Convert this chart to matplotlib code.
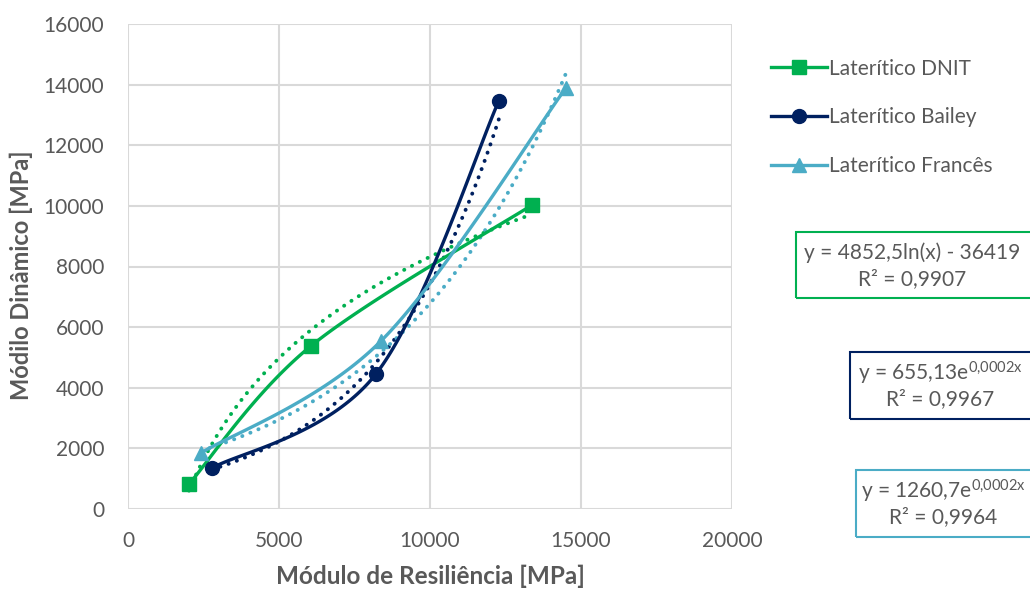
import numpy as np
import matplotlib
matplotlib.use("Agg")
import matplotlib.pyplot as plt
from matplotlib.lines import Line2D
from matplotlib.patches import Rectangle

plt.rcParams['font.family'] = ['Lato', 'DejaVu Sans']

# ---- data ----
dnit_x = [2020, 6060, 13380]
dnit_y = [825, 5380, 10030]
bailey_x = [2780, 8210, 12280]
bailey_y = [1350, 4455, 13465]
frances_x = [2420, 8380, 14500]
frances_y = [1850, 5545, 13890]
series_names = ["Laterítico DNIT", "Laterítico Bailey", "Laterítico Francês"]
colors = ["#00B050", "#002060", "#4BACC6"]
markers = ["s", "o", "^"]
eq_texts = [
    ("y = 4852,5ln(x) - 36419", "R² = 0,9907"),
    ("y = 655,13e$\\mathregular{^{0{,}0002x}}$", "R² = 0,9967"),
    ("y = 1260,7e$\\mathregular{^{0{,}0002x}}$", "R² = 0,9964"),
]
x_ticks = [0, 5000, 10000, 15000, 20000]
y_ticks = [0, 2000, 4000, 6000, 8000, 10000, 12000, 14000, 16000]
gray = "#595959"


def smooth(xs, ys, n=60):
    P = np.column_stack([xs, ys]).astype(float)
    pts = []
    for i in range(len(P) - 1):
        p0 = P[i - 1] if i > 0 else P[i]
        p1, p2 = P[i], P[i + 1]
        p3 = P[i + 2] if i + 2 < len(P) else P[i + 1]
        c1 = p1 + (p2 - p0) / 6.0
        c2 = p2 - (p3 - p1) / 6.0
        t = np.linspace(0, 1, n)[:, None]
        b = ((1 - t) ** 3) * p1 + 3 * ((1 - t) ** 2) * t * c1 + 3 * (1 - t) * t ** 2 * c2 + t ** 3 * p2
        pts.append(b if i == 0 else b[1:])
    pts = np.vstack(pts)
    return pts[:, 0], pts[:, 1]


fig = plt.figure(figsize=(10.3, 5.9), dpi=100)
ax = fig.add_axes([128 / 1030, 1 - 509 / 590, 604 / 1030, 485 / 590])
ax.set_xlim(0, 20000)
ax.set_ylim(0, 16000)
ax.set_xticks(x_ticks)
ax.set_yticks(y_ticks)
ax.grid(True, color="#d9d9d9", linewidth=1.5)
ax.set_axisbelow(True)
for s in ax.spines.values():
    s.set_visible(False)
ax.tick_params(length=0, labelsize=15, colors=gray)
ax.tick_params(axis="x", pad=16)
ax.tick_params(axis="y", pad=17)
ax.set_xlabel("Módulo de Resiliência [MPa]", fontsize=17.5, fontweight="bold", color=gray, labelpad=10)
fig.text(21 / 1030, 1 - 275 / 590, "Módilo Dinâmico [MPa]", rotation=90, ha="center", va="center",
         fontsize=17, fontweight="bold", color=gray)

data = [(dnit_x, dnit_y), (bailey_x, bailey_y), (frances_x, frances_y)]
for k, (xs, ys) in enumerate(data):
    xs_a = np.array(xs, float)
    ys_a = np.array(ys, float)
    # trendlines
    xt = np.linspace(xs_a.min(), xs_a.max(), 200)
    if k == 0:
        a, b = np.polyfit(np.log(xs_a), ys_a, 1)
        yt = a * np.log(xt) + b
    else:
        a, b = np.polyfit(xs_a, np.log(ys_a), 1)
        yt = np.exp(b) * np.exp(a * xt)
    ax.plot(xt, yt, color=colors[k], linestyle=(0, (0.05, 2.2)), linewidth=2.8,
            dash_capstyle="round", zorder=2)
    sx, sy = smooth(xs, ys)
    ax.plot(sx, sy, color=colors[k], linewidth=2.4, zorder=3)
    ax.plot(xs, ys, linestyle="none", marker=markers[k], color=colors[k],
            markersize=10, zorder=4)

# legend
handles = [Line2D([0], [0], color=colors[k], lw=2.4, marker=markers[k], markersize=10)
           for k in range(3)]
leg = fig.legend(handles, series_names, loc="upper left", bbox_to_anchor=(752 / 1030, 1 - 40 / 590),
                 frameon=False, fontsize=15, labelcolor=gray, handlelength=2.7,
                 handletextpad=0.1, labelspacing=1.38)

# equation boxes
boxes = [(796, 232, 298, 912), (850, 352, 419, 940), (856, 470, 537, 943)]
for k, (x0, y0, y1, xc) in enumerate(boxes):
    r = Rectangle((x0 / 1030, 1 - y1 / 590), (1040 - x0) / 1030, (y1 - y0) / 590,
                  transform=fig.transFigure, fill=False, edgecolor=colors[k], linewidth=1.5)
    fig.patches.append(r)
    ym = (y0 + y1) / 2
    fig.text(xc / 1030, 1 - (ym - 12) / 590, eq_texts[k][0], ha="center", va="center",
             fontsize=15, color=gray)
    fig.text(xc / 1030, 1 - (ym + 14) / 590, eq_texts[k][1], ha="center", va="center",
             fontsize=15, color=gray)

fig.savefig("out.png", dpi=100)
